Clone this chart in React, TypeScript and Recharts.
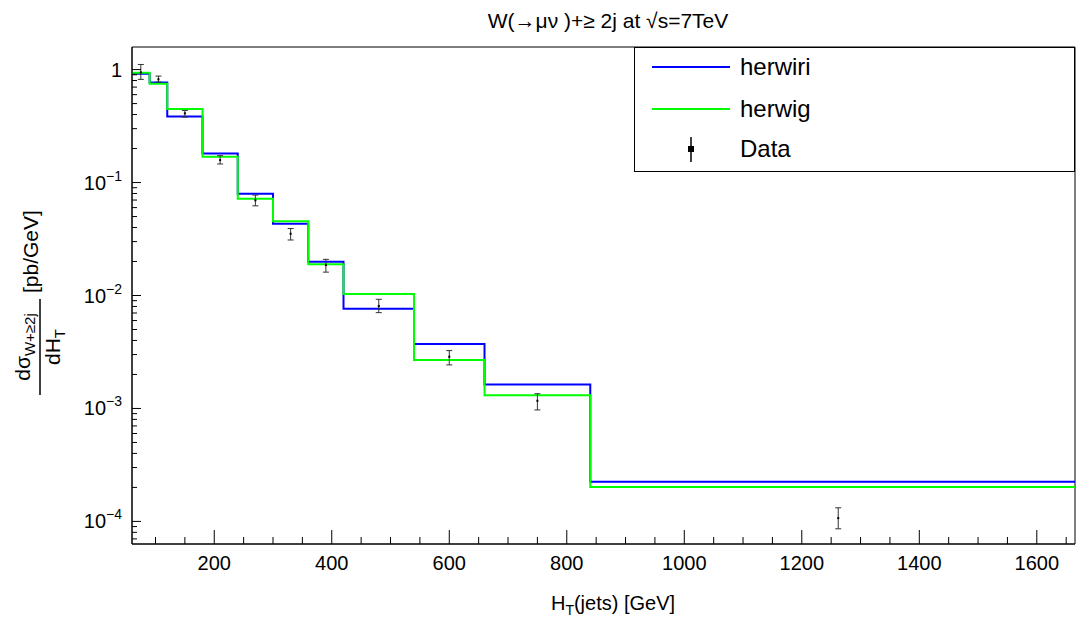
import React from 'react';
import {
  ComposedChart,
  Line,
  Scatter,
  ErrorBar,
  XAxis,
  YAxis,
  Legend,
  ReferenceArea,
  Customized,
} from 'recharts';

const FONT = '"Liberation Sans", Arial, Helvetica, sans-serif';

// histogram bin edges (GeV); last edge only closes the final bin
const binEdges = [60, 90, 120, 180, 240, 300, 360, 420, 540, 660, 840, 1665];
const herwiri = [0.918, 0.77, 0.385, 0.181, 0.0796, 0.0432, 0.0199, 0.00764, 0.00372, 0.00163, 0.000224];
const herwig = [0.937, 0.75, 0.447, 0.169, 0.0719, 0.0454, 0.0189, 0.0103, 0.00269, 0.00131, 0.000202];

// measured points with asymmetric errors
const dataX = [75, 105, 150, 210, 270, 330, 390, 480, 600, 750, 1262];
const dataY = [0.944, 0.82, 0.41, 0.158, 0.0696, 0.0352, 0.0186, 0.00807, 0.00287, 0.00117, 0.000107];
const dataLow = [0.819, 0.775, 0.38, 0.146, 0.0622, 0.031, 0.0161, 0.00705, 0.00243, 0.00097, 0.000086];
const dataHigh = [1.11, 0.876, 0.435, 0.173, 0.0775, 0.0392, 0.0209, 0.00925, 0.00325, 0.00135, 0.000132];

const xMajorTicks = [200, 400, 600, 800, 1000, 1200, 1400, 1600];
const yMajorTicks = [1e-4, 1e-3, 1e-2, 1e-1, 1];

const X_MIN = 60;
const X_MAX = 1665;
const Y_MIN = Math.pow(10, -4.2);
const Y_MAX = Math.pow(10, 0.2);

const xMinorTicks: number[] = [];
for (let v = 100; v <= 1650; v += 50) {
  if (!xMajorTicks.includes(v)) xMinorTicks.push(v);
}
const xTicks = [...xMinorTicks, ...xMajorTicks].sort((a, b) => a - b);

const yMinorTicks: number[] = [];
for (let e = -5; e <= 0; e++) {
  for (let k = 2; k <= 9; k++) {
    const v = k * Math.pow(10, e);
    if (v > Y_MIN && v < Y_MAX) yMinorTicks.push(v);
  }
}
const yTicks = [...yMinorTicks, ...yMajorTicks].sort((a, b) => a - b);

const toSteps = (vals: number[]) =>
  binEdges.map((x, i) => ({ x, y: vals[Math.min(i, vals.length - 1)] }));

const herwiriSteps = toSteps(herwiri);
const herwigSteps = toSteps(herwig);

const points = dataX.map((x, i) => ({
  x,
  y: dataY[i],
  err: [dataY[i] - dataLow[i], dataHigh[i] - dataY[i]],
}));

const XTick = (props: any) => {
  const { x, y, payload } = props;
  const major = xMajorTicks.includes(payload.value);
  return (
    <g>
      <line x1={x} x2={x} y1={y} y2={y - (major ? 14 : 7)} stroke="#000" />
      {major && (
        <text x={x} y={y + 26} textAnchor="middle" fontSize={20} fontFamily={FONT} fill="#000">
          {payload.value}
        </text>
      )}
    </g>
  );
};

const YTick = (props: any) => {
  const { x, y, payload } = props;
  const major = yMajorTicks.includes(payload.value);
  const exp = Math.round(Math.log10(payload.value));
  return (
    <g>
      <line x1={x} x2={x + (major ? 9 : 5)} y1={y} y2={y} stroke="#000" />
      {major && (
        <text x={x - 10} y={y + 7} textAnchor="end" fontSize={20} fontFamily={FONT} fill="#000">
          {exp === 0 ? (
            '1'
          ) : (
            <>
              10
              <tspan fontSize={14} dy={-9}>
                {'\u2212' + Math.abs(exp)}
              </tspan>
            </>
          )}
        </text>
      )}
    </g>
  );
};

const DataDot = (props: any) => (
  <rect x={props.cx - 1} y={props.cy - 1} width={2} height={2} fill="#000" />
);

const LegendBox = () => (
  <div
    style={{
      width: 441,
      height: 125,
      border: '1px solid #000',
      boxSizing: 'border-box',
      background: '#fff',
    }}
  >
    <svg width={439} height={123} style={{ display: 'block' }}>
      <g fontFamily={FONT} fontSize={24} fill="#000">
        <line x1={17} x2={95} y1={19} y2={19} stroke="#0000ff" strokeWidth={2} />
        <text x={105} y={27}>herwiri</text>
        <line x1={17} x2={95} y1={61} y2={61} stroke="#00ff00" strokeWidth={2} />
        <text x={105} y={69}>herwig</text>
        <line x1={56} x2={56} y1={89} y2={114} stroke="#000" strokeWidth={1.5} />
        <rect x={53} y={98} width={6} height={6} fill="#000" />
        <text x={105} y={109}>Data</text>
      </g>
    </svg>
  </div>
);

const Annotations = () => (
  <g fontFamily={FONT} fill="#000">
    <text x={608} y={28} fontSize={21} textAnchor="middle">
      {'W(\u2192\u03bc\u03bd )+\u2265 2j at \u221as=7TeV'}
    </text>
    <text x={613} y={610} fontSize={20} textAnchor="middle">
      H
      <tspan fontSize={14} dy={5}>T</tspan>
      <tspan dy={-5}>(jets) [GeV]</tspan>
    </text>
    <g transform="translate(40,301) rotate(-90)">
      <text x={-46} y={-10} fontSize={21} textAnchor="middle">
        {'d\u03c3'}
        <tspan fontSize={15} dy={5}>{'W+\u22652j'}</tspan>
      </text>
      <line x1={-94} x2={2} y1={0} y2={0} stroke="#000" strokeWidth={1.5} />
      <text x={-46} y={20} fontSize={21} textAnchor="middle">
        dH
        <tspan fontSize={15} dy={5}>T</tspan>
      </text>
      <text x={8} y={-2} fontSize={21}>[pb/GeV]</text>
    </g>
  </g>
);

export default function App() {
  return (
    <div style={{ position: 'absolute', left: 0, top: 0, width: 1076, height: 617, background: '#fff' }}>
      <ComposedChart width={1076} height={617} margin={{ top: 47, right: 1, bottom: 0, left: 0 }}>
        <XAxis
          type="number"
          dataKey="x"
          domain={[X_MIN, X_MAX]}
          allowDataOverflow
          ticks={xTicks}
          interval={0}
          height={73}
          tickSize={0}
          tickMargin={0}
          tickLine={false}
          tick={<XTick />}
          axisLine={{ stroke: '#000' }}
        />
        <YAxis
          type="number"
          dataKey="y"
          scale="log"
          domain={[Y_MIN, Y_MAX]}
          allowDataOverflow
          ticks={yTicks}
          interval={0}
          width={132}
          tickSize={0}
          tickMargin={0}
          tickLine={false}
          tick={<YTick />}
          axisLine={{ stroke: '#000' }}
        />
        <Line
          data={herwiriSteps}
          dataKey="y"
          type="stepAfter"
          stroke="#0000ff"
          strokeWidth={2}
          dot={false}
          isAnimationActive={false}
        />
        <Line
          data={herwigSteps}
          dataKey="y"
          type="stepAfter"
          stroke="#00ff00"
          strokeWidth={2}
          dot={false}
          isAnimationActive={false}
        />
        <Scatter data={points} dataKey="y" shape={<DataDot />} isAnimationActive={false}>
          <ErrorBar dataKey="err" direction="y" width={3} stroke="#333" strokeWidth={1} />
        </Scatter>
        <ReferenceArea x1={X_MIN} x2={X_MAX} y1={Y_MIN} y2={Y_MAX} fill="none" stroke="#000" ifOverflow="visible" />
        <Legend
          layout="horizontal"
          verticalAlign="middle"
          align="center"
          width={441}
          height={125}
          wrapperStyle={{ left: 634, top: 47 }}
          content={<LegendBox />}
        />
        <Customized component={<Annotations />} />
      </ComposedChart>
    </div>
  );
}
